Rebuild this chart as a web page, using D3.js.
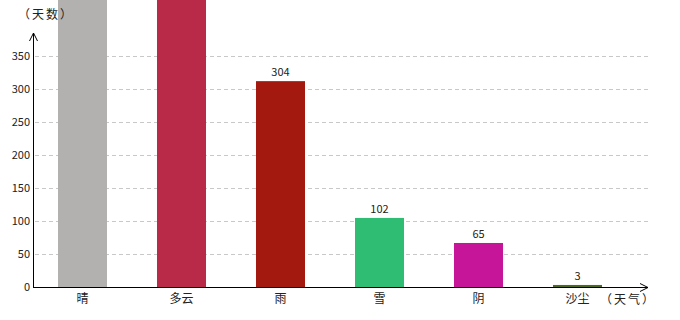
<!DOCTYPE html>
<html>
<head>
<meta charset="utf-8">
<script src="https://cdn.jsdelivr.net/npm/d3@7"></script>
<style>
  body { margin: 0; background: #fff; }
  text { font-family: "Noto Sans CJK SC", "DejaVu Sans", sans-serif; }
</style>
</head>
<body>
<div id="chart-area"></div>
<script>
var categories = ["晴", "多云", "雨", "雪", "阴", "沙尘"];
var days = [780, 560, 304, 102, 65, 3];
var colors = ["#b2b1af", "#b82a48", "#a3190f", "#2ebd73", "#c61598", "#4b6a1f"];
var yTicks = [0, 50, 100, 150, 200, 250, 300, 350];

var width = 680,
    height = 320;

var svg = d3.select("#chart-area").append("svg")
    .attr("width", width)
    .attr("height", height);

var x0 = 33, x1 = 648, y0 = 287;

var x = d3.scaleBand()
    .domain(categories)
    .range([x0, x0 + 6 * 99])
    .paddingInner(0.505)
    .paddingOuter(0.2525);

// axis scale
var y = d3.scaleLinear()
    .domain([0, 350])
    .range([y0, 56]);

// bars come out a bit taller than the axis in the original
var yBar = d3.scaleLinear()
    .domain([0, 350])
    .range([y0, 50]);

// grid lines
svg.selectAll(".grid")
    .data(yTicks.slice(1))
    .enter().append("line")
    .attr("class", "grid")
    .attr("x1", x0 + 2)
    .attr("x2", x1)
    .attr("y1", d => y(d) + 0.5)
    .attr("y2", d => y(d) + 0.5)
    .style("stroke", "#c8c8c8")
    .style("stroke-dasharray", "4,3");

// bars
svg.selectAll(".bar")
    .data(days)
    .enter().append("rect")
    .attr("class", "bar")
    .attr("x", (d, i) => x(categories[i]))
    .attr("width", x.bandwidth())
    .attr("y", d => yBar(d))
    .attr("height", d => y0 - yBar(d))
    .style("fill", (d, i) => colors[i]);

// value labels (the ones above the top edge are out of view anyway)
svg.selectAll(".val")
    .data(days.filter(d => yBar(d) > 20))
    .enter().append("text")
    .attr("class", "val")
    .attr("x", d => x(categories[days.indexOf(d)]) + x.bandwidth() / 2)
    .attr("y", d => yBar(d) - 5)
    .attr("text-anchor", "middle")
    .style("font-size", "11px")
    .style("fill", "#222")
    .text(d => d);

// y tick labels
svg.selectAll(".ytick")
    .data(yTicks)
    .enter().append("text")
    .attr("class", "ytick")
    .attr("x", x0 - 3)
    .attr("y", d => y(d) + 4)
    .attr("text-anchor", "end")
    .style("font-size", "11px")
    .style("fill", "#222")
    .text(d => d);

// x labels
svg.selectAll(".xlab")
    .data(categories)
    .enter().append("text")
    .attr("class", "xlab")
    .attr("x", d => x(d) + x.bandwidth() / 2)
    .attr("y", 303)
    .attr("text-anchor", "middle")
    .style("font-size", "12px")
    .style("fill", "#222")
    .text(d => d);

// axes with arrows
svg.append("line")
    .attr("x1", x0 + 0.5).attr("x2", x0 + 0.5)
    .attr("y1", y0).attr("y2", 33)
    .style("stroke", "#000");
svg.append("path")
    .attr("d", "M" + (x0 - 3.5) + ",41L" + (x0 + 0.5) + ",33L" + (x0 + 4.5) + ",41")
    .style("fill", "none").style("stroke", "#000");

svg.append("line")
    .attr("x1", x0).attr("x2", x1)
    .attr("y1", y0 + 0.5).attr("y2", y0 + 0.5)
    .style("stroke", "#000");
svg.append("path")
    .attr("d", "M" + (x1 - 8) + "," + (y0 - 3.5) + "L" + x1 + "," + (y0 + 0.5) + "L" + (x1 - 8) + "," + (y0 + 4.5))
    .style("fill", "none").style("stroke", "#000");

// axis titles
svg.append("text")
    .attr("x", 18)
    .attr("y", 19)
    .style("font-size", "12px")
    .style("letter-spacing", "2px")
    .style("fill", "#222")
    .text("（天数）");

svg.append("text")
    .attr("x", 600)
    .attr("y", 304)
    .style("font-size", "12px")
    .style("letter-spacing", "2px")
    .style("fill", "#222")
    .text("（天气）");
</script>
</body>
</html>
